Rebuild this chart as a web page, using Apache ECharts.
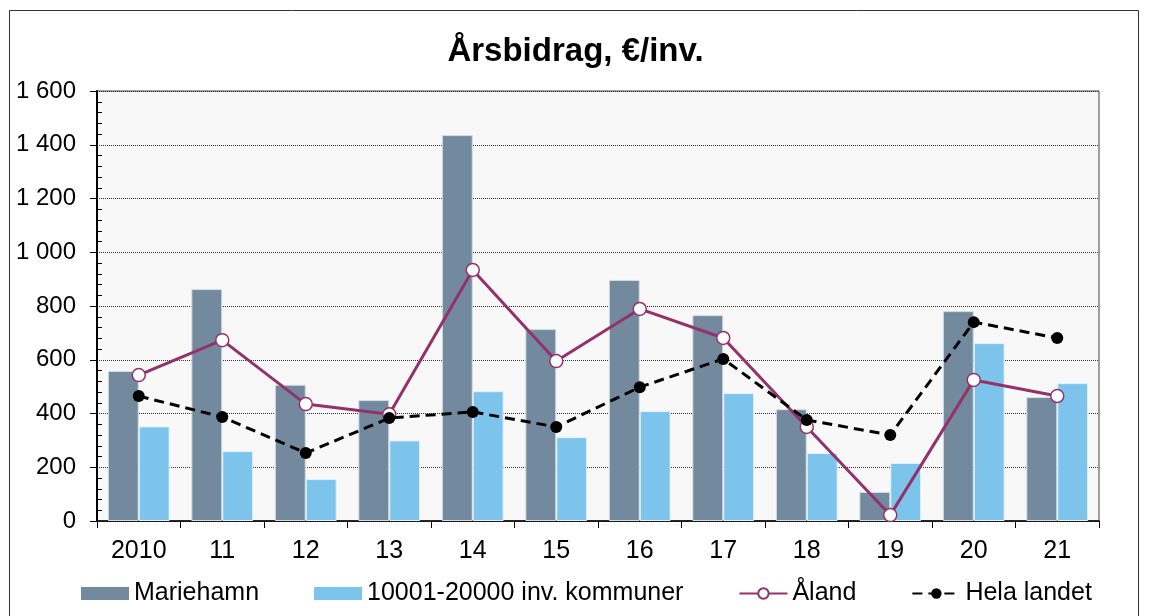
<!DOCTYPE html>
<html>
<head>
<meta charset="utf-8">
<script src="https://cdn.jsdelivr.net/npm/echarts@6/dist/echarts.min.js"></script>
<style>
  html, body { margin: 0; padding: 0; background: #fff; }
  #main { width: 1151px; height: 616px; }
</style>
</head>
<body>
<div id="main"></div>
<script>
// data
var years = ["2010", "11", "12", "13", "14", "15", "16", "17", "18", "19", "20", "21"];
var mariehamn = [558, 863, 507, 450, 1436, 714, 897, 766, 416, 108, 781, 461];
var kommuner = [352, 260, 156, 300, 483, 312, 409, 476, 253, 216, 662, 513];
var aland = [543, 673, 435, 397, 934, 595, 789, 681, 350, 22, 525, 465];
var helaLandet = [465, 387, 253, 383, 406, 350, 498, 603, 376, 320, 740, 681];

var font = "'Liberation Sans', Arial, sans-serif";
var chart = echarts.init(document.getElementById("main"));

function fmt(v) {
  // thousands separated with a space
  return String(v).replace(/\B(?=(\d{3})+(?!\d))/g, " ");
}

var option = {
  animation: false,
  title: {
    text: "Årsbidrag, €/inv.",
    left: "center",
    top: 30,
    textStyle: { fontFamily: font, fontSize: 33, fontWeight: "bold", color: "#000" }
  },
  graphic: [{
    type: "rect",
    shape: { x: 9.5, y: 10.5, width: 1129, height: 640 },
    style: { fill: "none", stroke: "#333", lineWidth: 1 },
    silent: true
  }],
  legend: {
    left: 76,
    top: 576,
    itemGap: 55,
    itemWidth: 48,
    itemHeight: 13,
    textStyle: { fontFamily: font, fontSize: 25, color: "#000" },
    data: [
      { name: "Mariehamn", icon: "rect", itemStyle: { borderWidth: 0 } },
      { name: "10001-20000 inv. kommuner", icon: "rect", itemStyle: { borderWidth: 0 } },
      { name: "Åland" },
      { name: "Hela landet" }
    ]
  },
  grid: {
    left: 97, right: 52, top: 91, bottom: 95,
    show: true,
    backgroundColor: "#f8f8f8",
    borderColor: "#444",
    borderWidth: 1
  },
  xAxis: {
    type: "category",
    data: years,
    axisLine: { lineStyle: { color: "#000", width: 1.5 } },
    axisTick: { show: true, length: 7, lineStyle: { color: "#000" } },
    axisLabel: { fontFamily: font, fontSize: 25, color: "#000", margin: 18 }
  },
  yAxis: [{
    type: "value",
    min: 0, max: 1600, interval: 200,
    axisLine: { show: true, lineStyle: { color: "#000", width: 2 } },
    axisTick: { show: true, length: 7, lineStyle: { color: "#000" } },
    axisLabel: { fontFamily: font, fontSize: 24, color: "#000", margin: 21, formatter: fmt },
    splitLine: { lineStyle: { color: "#333", type: "dotted", width: 1 } }
  }, {
    // right-side axis moved onto the left edge, only to draw the small inner ticks
    type: "value",
    position: "right",
    offset: -1002,
    min: 0, max: 1600, interval: 200,
    axisLine: { show: false },
    axisTick: { show: false },
    axisLabel: { show: false },
    splitLine: { show: false },
    minorTick: { show: true, splitNumber: 5, length: 5, lineStyle: { color: "#000", width: 1 } }
  }],
  series: [
    {
      name: "Mariehamn",
      type: "bar",
      data: mariehamn,
      barGap: "0%",
      barCategoryGap: "26%",
      itemStyle: { color: "#738a9e", borderColor: "#d3dde6", borderWidth: 1 }
    },
    {
      name: "10001-20000 inv. kommuner",
      type: "bar",
      data: kommuner,
      itemStyle: { color: "#7dc4ed", borderColor: "#e6f2fa", borderWidth: 1 }
    },
    {
      name: "Åland",
      type: "line",
      data: aland,
      symbol: "circle",
      symbolSize: 13,
      lineStyle: { color: "#93326a", width: 3 },
      itemStyle: { color: "#fff", borderColor: "#93326a", borderWidth: 1.5 },
      z: 3
    },
    {
      name: "Hela landet",
      type: "line",
      data: helaLandet,
      symbol: "circle",
      symbolSize: 12,
      lineStyle: { color: "#000", width: 3, type: [10, 6] },
      itemStyle: { color: "#000" },
      z: 4
    }
  ]
};

chart.setOption(option);
</script>
</body>
</html>
